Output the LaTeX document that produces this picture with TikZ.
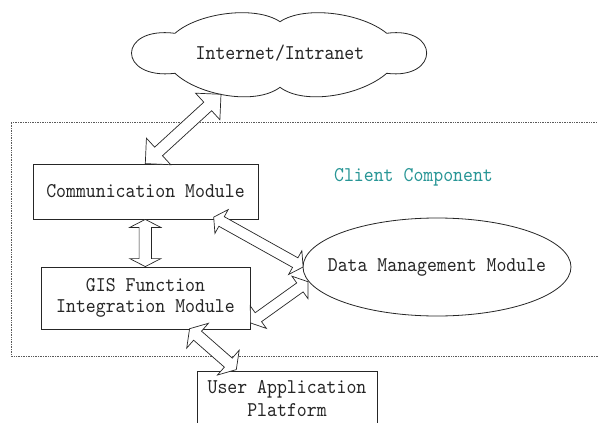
\documentclass[tikz,border=0pt]{standalone}
\usepackage{fontspec}
\setmonofont{lmmono10-regular.otf}[FakeStretch=0.9]
\usetikzlibrary{calc,shapes.geometric}
\definecolor{clientteal}{RGB}{40,150,150}
\definecolor{framegray}{RGB}{90,90,90}
% double-headed hollow block arrow: #1 tip A, #2 tip B, #3 head length, #4 head half-width, #5 shaft half-width
\newcommand\blockarrow[5]{%
  \draw[blockarr] (#1)
    -- ($(#1)!#3!(#2)!#4!90:(#2)$)
    -- ($(#1)!#3!(#2)!#5!90:(#2)$)
    -- ($(#2)!#3!(#1)!#5!-90:(#1)$)
    -- ($(#2)!#3!(#1)!#4!-90:(#1)$)
    -- (#2)
    -- ($(#2)!#3!(#1)!#4!90:(#1)$)
    -- ($(#2)!#3!(#1)!#5!90:(#1)$)
    -- ($(#1)!#3!(#2)!#5!-90:(#2)$)
    -- ($(#1)!#3!(#2)!#4!-90:(#2)$)
    -- cycle;}
\begin{document}
\begin{tikzpicture}[x=1pt,y=-1pt,
  txt/.style={font=\ttfamily\fontsize{21}{21}\selectfont, text=black!85},
  box/.style={txt, draw=black!85, line width=0.8pt, rectangle, inner sep=0pt, align=center},
  blockarr/.style={draw=black!85, fill=white, line width=0.7pt, line join=miter},
  frame/.style={draw=framegray, line width=0.7pt, densely dotted},
  cloudline/.style={draw=black!85, line width=0.8pt}]
\clip (0,0) rectangle (598,423);
\fill[white] (0,0) rectangle (598,423);

% client component frame (right side beyond the picture)
\draw[frame] (600,122) -- (11,122) -- (11,356) -- (600,356);

% cloud
\draw[cloudline] (175,33.3)
  .. controls (198,13) and (255,5) .. (280,21.7)
  .. controls (305,5) and (362,13) .. (386.7,33.3)
  .. controls (440,26) and (440,80) .. (386.7,73.3)
  .. controls (362,95) and (305,106) .. (280,87.3)
  .. controls (255,106) and (198,95) .. (175,73.3)
  .. controls (117,80) and (117,26) .. (175,33.3) -- cycle;
\node[txt] (cloud) at (280,53) {Internet/Intranet};

% modules
\node[box, minimum width=225pt, minimum height=55pt] (comm) at (145.5,191.5) {Communication Module};
\node[box, minimum width=209pt, minimum height=62pt] (gis) at (145.5,298) {GIS Function\\Integration Module};
\node[box, minimum width=180pt, minimum height=56pt, font=\ttfamily\fontsize{21}{23}\selectfont] (user) at (287,399) {User Application\\Platform};
\node[draw=black!85, line width=0.8pt, ellipse, inner sep=0pt, minimum width=268pt, minimum height=98pt] (data) at (437,267) {};
\node[txt] (datatext) at (data.center) {Data Management Module};
\node[txt, text=clientteal] (client) at (413.5,177) {Client Component};

% arrow end points
\coordinate (cloudb) at ($(cloud)+(-59,41.3)$);
\coordinate (commn) at ($(comm.north west)+(112.7,0)$);
\coordinate (comms) at ($(comm.south west)+(112.7,0)$);
\coordinate (commse) at ($(comm.south east)+(-44.7,-2.3)$);
\coordinate (gisn) at ($(gis.north west)+(104.7,0)$);
\coordinate (gise) at ($(gis.north east)+(0,56.3)$);
\coordinate (giss) at ($(gis.south west)+(149,-0.7)$);
\coordinate (dataw) at ($(data.west)+(0.5,0)$);
\coordinate (datasw) at ($(data.west)+(5.3,14.7)$);
\coordinate (usern) at ($(user.north west)+(39.7,-1)$);

% connectors
\blockarrow{commn}{cloudb}{18pt}{18pt}{5.8pt}
\blockarrow{comms}{gisn}{8pt}{15.5pt}{6.2pt}
\blockarrow{commse}{dataw}{9pt}{13.6pt}{5.5pt}
\blockarrow{gise}{datasw}{9.8pt}{13.8pt}{5.5pt}
\blockarrow{giss}{usern}{10.6pt}{16.5pt}{6pt}
\end{tikzpicture}
\end{document}
